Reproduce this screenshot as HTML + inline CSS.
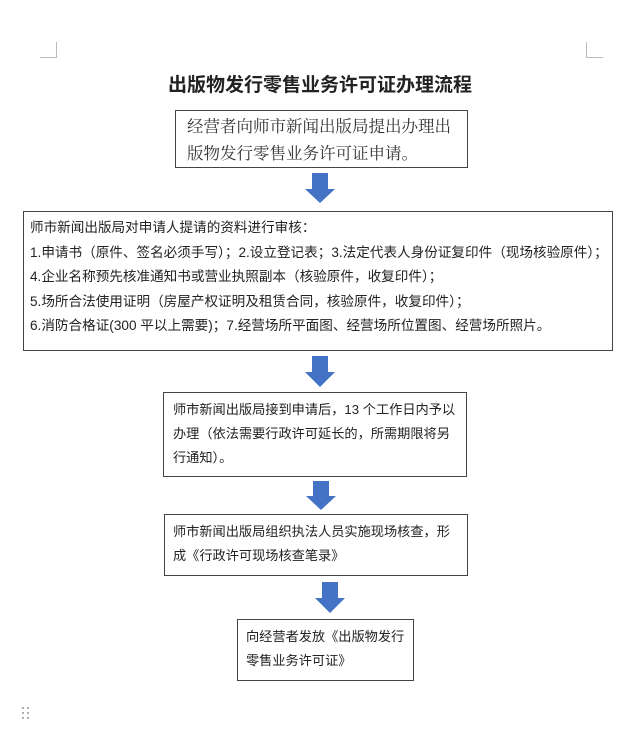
<!DOCTYPE html>
<html><head><meta charset="utf-8"><style>
body{margin:0;width:640px;height:736px;background:#fff;position:relative;overflow:hidden;font-family:"Liberation Sans","Noto Sans CJK SC",sans-serif;color:#222}
.b{position:absolute;border:1.3px solid #444;box-sizing:border-box;background:#fff}
.t{position:absolute;white-space:nowrap}
svg{position:absolute}
</style></head><body>
<div style="position:absolute;left:56px;top:42px;width:1px;height:16px;background:#bbb"></div>
<div style="position:absolute;left:40px;top:57px;width:17px;height:1px;background:#bbb"></div>
<div style="position:absolute;left:586px;top:42px;width:1px;height:16px;background:#bbb"></div>
<div style="position:absolute;left:586px;top:57px;width:17px;height:1px;background:#bbb"></div>
<div class="t" style="left:0;width:640px;text-align:center;top:70px;font-size:19px;font-weight:bold;color:#222">出版物发行零售业务许可证办理流程</div>

<div class="b" style="left:175px;top:110px;width:293px;height:58px;"></div>
<div class="t" style="left:187px;top:113px;font-size:16.5px;line-height:27px;font-family:'Liberation Serif','Noto Serif CJK SC',serif;color:#333">经营者向师市新闻出版局提出办理出<br>版物发行零售业务许可证申请。</div>

<div class="b" style="left:23px;top:211px;width:590px;height:140px;"></div>
<div class="t" style="left:30px;top:216px;font-size:13.6px;line-height:24.5px">师市新闻出版局对申请人提请的资料进行审核：<br>1.申请书（原件、签名必须手写）；2.设立登记表；3.法定代表人身份证复印件（现场核验原件）；<br>4.企业名称预先核准通知书或营业执照副本（核验原件，收复印件）；<br>5.场所合法使用证明（房屋产权证明及租赁合同，核验原件，收复印件）；<br>6.消防合格证(300 平以上需要)；7.经营场所平面图、经营场所位置图、经营场所照片。</div>

<div class="b" style="left:163px;top:392px;width:304px;height:85px;"></div>
<div class="t" style="left:173px;top:398px;font-size:13.2px;line-height:24px">师市新闻出版局接到申请后，13 个工作日内予以<br>办理（依法需要行政许可延长的，所需期限将另<br>行通知）。</div>

<div class="b" style="left:164px;top:514px;width:304px;height:62px;"></div>
<div class="t" style="left:173px;top:520px;font-size:13.2px;line-height:24px">师市新闻出版局组织执法人员实施现场核查，形<br>成《行政许可现场核查笔录》</div>

<div class="b" style="left:237px;top:619px;width:177px;height:62px;"></div>
<div class="t" style="left:246px;top:625px;font-size:13.2px;line-height:24px">向经营者发放《出版物发行<br>零售业务许可证》</div>

<svg width="640" height="736" style="left:0;top:0">
<g fill="#4472C4">
<polygon points="312,173 328,173 328,189 335,189 320,203 305,189 312,189"/>
<polygon points="312,356 328,356 328,372 335,372 320,387 305,372 312,372"/>
<polygon points="313,481 329,481 329,496 336,496 321,510 306,496 313,496"/>
<polygon points="322,582 338,582 338,598 345,598 330,613 315,598 322,598"/>
</g>
<g fill="#999"><circle cx="23" cy="708" r="1"/><circle cx="28" cy="708" r="1"/><circle cx="23" cy="713" r="1"/><circle cx="28" cy="713" r="1"/><circle cx="23" cy="718" r="1"/><circle cx="28" cy="718" r="1"/></g>
</svg>
</body></html>
